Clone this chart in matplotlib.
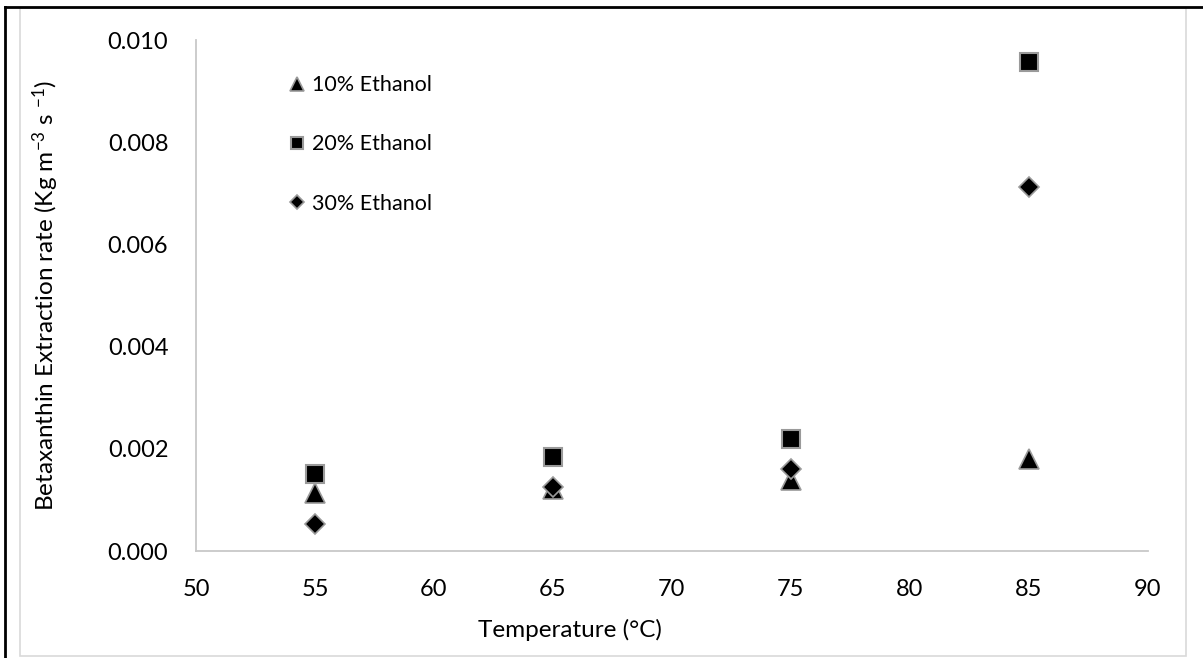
import matplotlib
matplotlib.use('Agg')
import matplotlib.pyplot as plt
from matplotlib.lines import Line2D
from matplotlib.patches import Rectangle

plt.rcParams['font.family'] = ['Lato', 'DejaVu Sans']
plt.rcParams['mathtext.fontset'] = 'custom'
plt.rcParams['mathtext.rm'] = 'Lato'
plt.rcParams['mathtext.it'] = 'Lato'

# extraction rate vs temperature for each ethanol concentration
temps = [55, 65, 75, 85]
rate_10 = [0.00114, 0.00122, 0.00139, 0.00180]
rate_20 = [0.00151, 0.00184, 0.00220, 0.00957]
rate_30 = [0.00053, 0.00125, 0.00161, 0.00712]
labels = ['10% Ethanol', '20% Ethanol', '30% Ethanol']

xticks = [50, 55, 60, 65, 70, 75, 80, 85, 90]
yticks = [0.000, 0.002, 0.004, 0.006, 0.008, 0.010]

fig = plt.figure(figsize=(12.03, 6.58), dpi=100)
ax = fig.add_axes([0.163, 0.1626, 0.791, 0.7766])

edge = '#9a9a9a'
ax.plot(temps, rate_10, linestyle='none', marker='^', ms=14, mfc='black', mec=edge, mew=1.2, label=labels[0])
ax.plot(temps, rate_20, linestyle='none', marker='s', ms=13, mfc='black', mec=edge, mew=1.5, label=labels[1])
ax.plot(temps, rate_30, linestyle='none', marker='D', ms=10, mfc='black', mec=edge, mew=1.2, label=labels[2])

ax.set_xlim(50, 90)
ax.set_ylim(0, 0.010)
ax.set_xticks(xticks)
ax.set_yticks(yticks)
ax.set_yticklabels(['%.3f' % v for v in yticks])
ax.tick_params(axis='both', length=0, labelsize=17, pad=20, colors='black')

for s in ['top', 'right']:
    ax.spines[s].set_visible(False)
for s in ['left', 'bottom']:
    ax.spines[s].set_color('#c8c8c8')
    ax.spines[s].set_linewidth(1.3)

ax.set_xlabel('Temperature (°C)', fontsize=17.5)
ax.xaxis.set_label_coords(0.393, -0.133)
ax.set_ylabel('Betaxanthin Extraction rate (Kg m$^{-3}$ s $^{-1}$)', fontsize=17.5)
ax.yaxis.set_label_coords(-0.142, 0.5)

ax.legend(loc='upper left', bbox_to_anchor=(0.099, 0.931), frameon=False, fontsize=15.5,
          markerscale=0.7, handlelength=0.6, handletextpad=0.4, labelspacing=1.82,
          borderpad=0, borderaxespad=0)

# chart area frame and the black cell borders
W, H = 1203, 658
fig.add_artist(Rectangle((20 / W, 2 / H), 1166 / W, 648 / H, transform=fig.transFigure,
                         fill=False, edgecolor='#d9d9d9', linewidth=1.2))
fig.add_artist(Line2D([5 / W, 1], [1 - 7 / H, 1 - 7 / H], transform=fig.transFigure, color='black', linewidth=2))
fig.add_artist(Line2D([5 / W, 5 / W], [0, 1 - 7 / H], transform=fig.transFigure, color='black', linewidth=2))

fig.savefig('out.png', dpi=100)
